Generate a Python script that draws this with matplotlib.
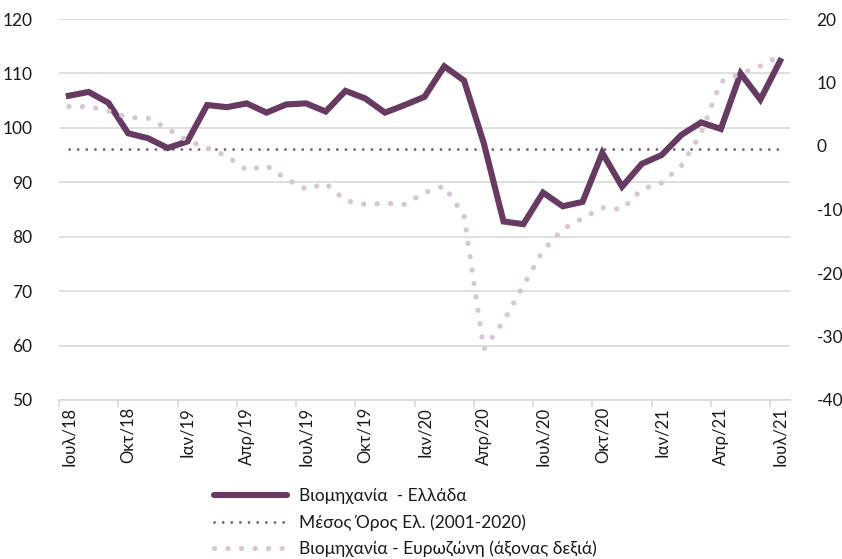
import matplotlib
matplotlib.use("Agg")
import matplotlib.pyplot as plt
from matplotlib.lines import Line2D
import numpy as np

plt.rcParams['font.family'] = ['Lato', 'Noto Sans', 'DejaVu Sans']
plt.rcParams['axes.unicode_minus'] = False

months = ["Ιουλ/18", "Αυγ/18", "Σεπ/18", "Οκτ/18", "Νοε/18", "Δεκ/18",
          "Ιαν/19", "Φεβ/19", "Μαρ/19", "Απρ/19", "Μαϊ/19", "Ιουν/19",
          "Ιουλ/19", "Αυγ/19", "Σεπ/19", "Οκτ/19", "Νοε/19", "Δεκ/19",
          "Ιαν/20", "Φεβ/20", "Μαρ/20", "Απρ/20", "Μαϊ/20", "Ιουν/20",
          "Ιουλ/20", "Αυγ/20", "Σεπ/20", "Οκτ/20", "Νοε/20", "Δεκ/20",
          "Ιαν/21", "Φεβ/21", "Μαρ/21", "Απρ/21", "Μαϊ/21", "Ιουν/21",
          "Ιουλ/21"]

greece = [105.9, 106.6, 104.6, 99.0, 98.1, 96.3, 97.5, 104.2, 103.8, 104.5,
          102.8, 104.3, 104.5, 103.0, 106.8, 105.4, 102.8, 104.2, 105.7, 111.3,
          108.7, 97.2, 82.8, 82.3, 88.1, 85.6, 86.4, 95.4, 89.2, 93.4,
          95.0, 98.7, 101.0, 99.8, 110.0, 105.2, 112.3]

greece_mean = 96.1

eurozone = [6.2, 6.2, 5.5, 4.5, 4.4, 2.7, 0.85, -0.3, -1.6, -3.8,
            -3.1, -5.2, -6.8, -5.9, -8.6, -9.2, -9.0, -9.2, -7.35, -6.3,
            -11.0, -32.0, -27.6, -22.0, -16.5, -13.1, -11.4, -9.7, -10.0, -6.8,
            -5.8, -3.1, 2.0, 10.1, 11.4, 12.6, 14.2]

label_greece = "Βιομηχανία  - Ελλάδα"
label_mean = "Μέσος Όρος Ελ. (2001-2020)"
label_ez = "Βιομηχανία - Ευρωζώνη (άξονας δεξιά)"

c_main = "#673A62"
c_mean = "#7E5079"
c_ez = "#D7C6D4"
txt = "#1a1a1a"

fig = plt.figure(figsize=(8.42, 5.59), dpi=100)
ax = fig.add_axes([59/842, 1-400/559, 731/842, 381/559])
x = np.arange(len(months))

ax.plot(x, greece, color=c_main, lw=4.4, solid_joinstyle='miter', zorder=3)
ax.plot(x, [greece_mean]*len(x), color=c_mean, lw=2.0,
        linestyle=(0, (0.01, 3.1)), dash_capstyle='round', zorder=2)

ax.set_ylim(50, 120)
ax.set_yticks(np.arange(50, 121, 10))
ax.set_xlim(-0.5, len(x)-0.5)
ax.grid(axis='y', color='#D9D9D9', lw=1.2)
ax.set_axisbelow(True)
for s in ['top', 'right', 'left']:
    ax.spines[s].set_visible(False)
ax.spines['bottom'].set_color('#D9D9D9')
ax.spines['bottom'].set_linewidth(1.2)

ticks = x[::3]
ax.set_xticks(ticks)
ax.set_xticklabels([months[i] for i in ticks], rotation=90, fontsize=12, color=txt)
ax.tick_params(axis='x', length=0, pad=5)
ax.set_xticks(ticks - 0.5, minor=True)
ax.tick_params(axis='x', which='minor', length=5, color='#D9D9D9', width=1.2)
ax.tick_params(axis='y', length=0, pad=19, labelsize=12.5, labelcolor=txt)

ax2 = ax.twinx()
ax2.plot(x, eurozone, color=c_ez, lw=3.8, linestyle=(0, (0.01, 2.55)),
         dash_capstyle='round', zorder=4)
ax2.set_ylim(-40, 20)
ax2.set_yticks(np.arange(-40, 21, 10))
ax2.tick_params(axis='y', length=0, pad=19, labelsize=12.5, labelcolor=txt)
for s in ['top', 'right', 'left', 'bottom']:
    ax2.spines[s].set_visible(False)

handles = [Line2D([], [], color=c_main, lw=4.4, solid_capstyle='round'),
           Line2D([], [], color=c_mean, lw=2.0, linestyle=(0, (0.01, 3.1)), dash_capstyle='round'),
           Line2D([], [], color=c_ez, lw=3.8, linestyle=(0, (0.01, 2.55)), dash_capstyle='round')]
fig.legend(handles, [label_greece, label_mean, label_ez], loc='upper left',
           bbox_to_anchor=(214/842, 1-488/559), frameon=False, fontsize=12.5,
           handlelength=4.2, handletextpad=0.7, labelspacing=0.58,
           borderpad=0, borderaxespad=0, labelcolor=txt)

fig.savefig("out.png", dpi=100)
